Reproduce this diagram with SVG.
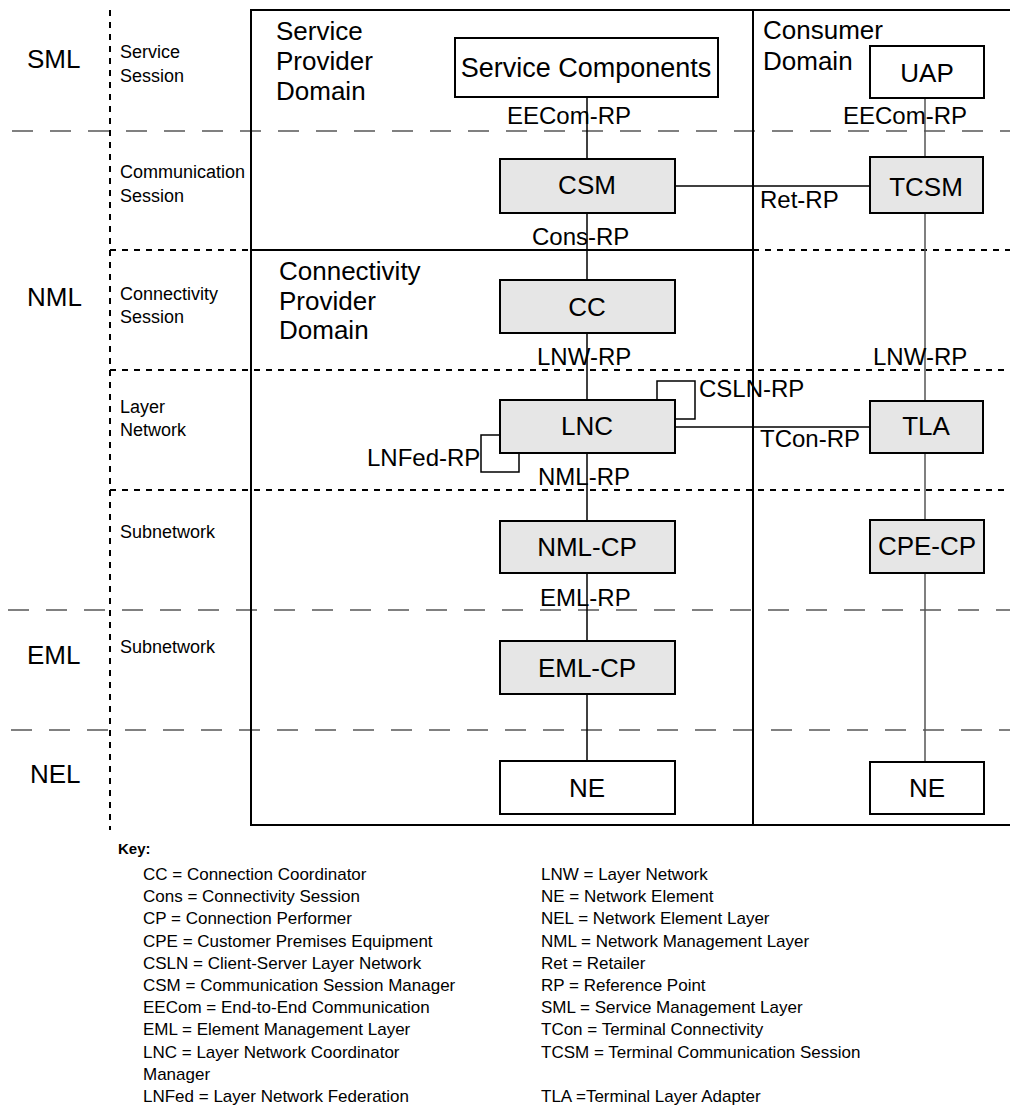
<svg xmlns="http://www.w3.org/2000/svg" width="1010" height="1106" viewBox="0 0 1010 1106">
  <style>
    text { font-family: "Liberation Sans", Arial, sans-serif; fill: #000; }
    .layer { font-size: 26px; }
    .sub { font-size: 18px; }
    .dom { font-size: 26px; }
    .lbl { font-size: 26px; text-anchor: middle; }
    .rp { font-size: 24px; }
    .key { font-size: 17px; }
    .keyhead { font-size: 15px; font-weight: bold; }
    .box { fill: #fff; stroke: #000; stroke-width: 2; }
    .gbox { fill: #e6e6e6; stroke: #000; stroke-width: 2; }
    .frame { stroke: #000; stroke-width: 2; fill: none; }
    .grey-dash { stroke: #808080; stroke-width: 2; stroke-dasharray: 21 17; fill: none; }
    .dots { stroke: #000; stroke-width: 2; stroke-dasharray: 6 6; fill: none; }
    .conn { stroke: #000; stroke-width: 1.5; fill: none; }
    .conn-g { stroke: #555; stroke-width: 1.5; fill: none; }
  </style>

  <!-- management layer boundaries (long grey dashes) -->
  <g id="layer-lines">
    <line class="grey-dash" x1="12" y1="131" x2="1010" y2="131"/>
    <line class="grey-dash" x1="8" y1="610" x2="1010" y2="610"/>
    <line class="grey-dash" x1="11" y1="730" x2="1010" y2="730"/>
  </g>

  <!-- session boundaries (short black dashes) -->
  <g id="session-lines">
    <line class="dots" x1="110" y1="10" x2="110" y2="830"/>
    <line class="dots" x1="110" y1="250" x2="251" y2="250"/>
    <line class="dots" x1="753" y1="250" x2="1010" y2="250"/>
    <line class="dots" x1="110" y1="370" x2="1010" y2="370"/>
    <line class="dots" x1="110" y1="490" x2="1010" y2="490"/>
  </g>

  <!-- domain frame -->
  <g id="domains">
    <path class="frame" d="M1010,10 H251 V825 H1010"/>
    <line class="frame" x1="753" y1="10" x2="753" y2="825"/>
    <line class="frame" x1="251" y1="250" x2="753" y2="250"/>
    <text class="dom" x="276" y="40">Service</text>
    <text class="dom" x="276" y="70">Provider</text>
    <text class="dom" x="276" y="100">Domain</text>
    <text class="dom" x="279" y="280">Connectivity</text>
    <text class="dom" x="279" y="310">Provider</text>
    <text class="dom" x="279" y="339">Domain</text>
    <text class="dom" x="763" y="39">Consumer</text>
    <text class="dom" x="763" y="70">Domain</text>
  </g>

  <!-- layer and session names -->
  <g id="layer-names">
    <text class="layer" x="27" y="68">SML</text>
    <text class="layer" x="27" y="306">NML</text>
    <text class="layer" x="27" y="664">EML</text>
    <text class="layer" x="30" y="783">NEL</text>
    <text class="sub" x="120" y="58">Service</text>
    <text class="sub" x="120" y="82">Session</text>
    <text class="sub" x="120" y="178">Communication</text>
    <text class="sub" x="120" y="202">Session</text>
    <text class="sub" x="120" y="300">Connectivity</text>
    <text class="sub" x="120" y="323">Session</text>
    <text class="sub" x="120" y="413">Layer</text>
    <text class="sub" x="120" y="436">Network</text>
    <text class="sub" x="120" y="538">Subnetwork</text>
    <text class="sub" x="120" y="653">Subnetwork</text>
  </g>

  <!-- connectors and reference points -->
  <g id="connectors">
    <line class="conn" x1="587" y1="97" x2="587" y2="159"/>
    <line class="conn" x1="587" y1="213" x2="587" y2="280"/>
    <line class="conn" x1="587" y1="333" x2="587" y2="400"/>
    <line class="conn" x1="587" y1="453" x2="587" y2="521"/>
    <line class="conn" x1="587" y1="573" x2="587" y2="641"/>
    <line class="conn" x1="587" y1="694" x2="587" y2="761"/>
    <line class="conn" x1="675" y1="186" x2="870" y2="186"/>
    <line class="conn" x1="675" y1="427" x2="870" y2="427"/>
    <path class="conn" d="M500,435 H481 V472 H519 V453"/>
    <path class="conn" d="M657,400 V381 H695 V419 H675"/>
    <line class="conn-g" x1="925" y1="98" x2="925" y2="157"/>
    <line class="conn-g" x1="925" y1="213" x2="925" y2="401"/>
    <line class="conn-g" x1="925" y1="453" x2="925" y2="520"/>
    <line class="conn-g" x1="925" y1="573" x2="925" y2="762"/>
    <text class="rp" x="507" y="124">EECom-RP</text>
    <text class="rp" x="843" y="124">EECom-RP</text>
    <text class="rp" x="760" y="208">Ret-RP</text>
    <text class="rp" x="532" y="245">Cons-RP</text>
    <text class="rp" x="537" y="365">LNW-RP</text>
    <text class="rp" x="873" y="365">LNW-RP</text>
    <text class="rp" x="699" y="397">CSLN-RP</text>
    <text class="rp" x="760" y="447">TCon-RP</text>
    <text class="rp" x="367" y="466">LNFed-RP</text>
    <text class="rp" x="538" y="485">NML-RP</text>
    <text class="rp" x="540" y="606">EML-RP</text>
  </g>

  <!-- nodes -->
  <g id="service-components">
    <rect class="box" x="455" y="38" width="263" height="59"/>
    <text class="lbl" x="586" y="77" style="font-size:27px">Service Components</text>
  </g>
  <g id="uap">
    <rect class="box" x="870" y="46" width="114" height="52"/>
    <text class="lbl" x="927" y="82">UAP</text>
  </g>
  <g id="csm">
    <rect class="gbox" x="500" y="159" width="175" height="54"/>
    <text class="lbl" x="587" y="194">CSM</text>
  </g>
  <g id="tcsm">
    <rect class="gbox" x="870" y="157" width="113" height="56"/>
    <text class="lbl" x="926" y="196">TCSM</text>
  </g>
  <g id="cc">
    <rect class="gbox" x="500" y="280" width="175" height="53"/>
    <text class="lbl" x="587" y="316">CC</text>
  </g>
  <g id="lnc">
    <rect class="gbox" x="500" y="400" width="175" height="53"/>
    <text class="lbl" x="587" y="435">LNC</text>
  </g>
  <g id="tla">
    <rect class="gbox" x="870" y="401" width="113" height="52"/>
    <text class="lbl" x="926" y="435">TLA</text>
  </g>
  <g id="nml-cp">
    <rect class="gbox" x="500" y="521" width="175" height="52"/>
    <text class="lbl" x="587" y="556">NML-CP</text>
  </g>
  <g id="cpe-cp">
    <rect class="gbox" x="870" y="520" width="114" height="53"/>
    <text class="lbl" x="927" y="555">CPE-CP</text>
  </g>
  <g id="eml-cp">
    <rect class="gbox" x="500" y="641" width="175" height="53"/>
    <text class="lbl" x="587" y="677">EML-CP</text>
  </g>
  <g id="ne-provider">
    <rect class="box" x="500" y="761" width="175" height="53"/>
    <text class="lbl" x="587" y="797">NE</text>
  </g>
  <g id="ne-consumer">
    <rect class="box" x="870" y="762" width="114" height="52"/>
    <text class="lbl" x="927" y="797">NE</text>
  </g>

  <!-- abbreviations -->
  <g id="key">
    <text class="keyhead" x="118" y="854">Key:</text>
    <text class="key" x="143" y="880">CC = Connection Coordinator</text>
    <text class="key" x="143" y="902">Cons = Connectivity Session</text>
    <text class="key" x="143" y="924">CP = Connection Performer</text>
    <text class="key" x="143" y="947">CPE = Customer Premises Equipment</text>
    <text class="key" x="143" y="969">CSLN = Client-Server Layer Network</text>
    <text class="key" x="143" y="991">CSM = Communication Session Manager</text>
    <text class="key" x="143" y="1013">EECom = End-to-End Communication</text>
    <text class="key" x="143" y="1035">EML = Element Management Layer</text>
    <text class="key" x="143" y="1058">LNC = Layer Network Coordinator</text>
    <text class="key" x="143" y="1080">Manager</text>
    <text class="key" x="143" y="1102">LNFed = Layer Network Federation</text>
    <text class="key" x="541" y="880">LNW = Layer Network</text>
    <text class="key" x="541" y="902">NE = Network Element</text>
    <text class="key" x="541" y="924">NEL = Network Element Layer</text>
    <text class="key" x="541" y="947">NML = Network Management Layer</text>
    <text class="key" x="541" y="969">Ret = Retailer</text>
    <text class="key" x="541" y="991">RP = Reference Point</text>
    <text class="key" x="541" y="1013">SML = Service Management Layer</text>
    <text class="key" x="541" y="1035">TCon = Terminal Connectivity</text>
    <text class="key" x="541" y="1058">TCSM = Terminal Communication Session</text>
    <text class="key" x="541" y="1102">TLA =Terminal Layer Adapter</text>
  </g>
</svg>
